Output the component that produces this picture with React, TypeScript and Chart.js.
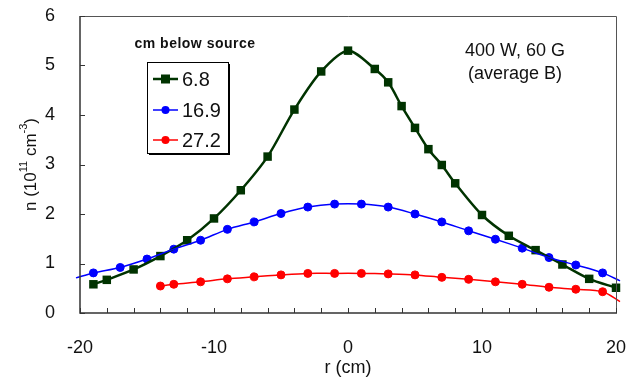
import React, { useEffect, useRef } from "react";
import { Chart, registerables } from "chart.js";

Chart.register(...registerables);

const seriesLabels = ["6.8", "16.9", "27.2"];
const rGreen = [-19, -18, -16, -14, -12, -10, -8, -6, -4, -2, 0, 2, 3, 4, 5, 6, 7, 8, 10, 12, 14, 16, 18, 20];
const nGreen = [0.58, 0.67, 0.88, 1.15, 1.47, 1.91, 2.48, 3.16, 4.11, 4.88, 5.3, 4.93, 4.66, 4.18, 3.74, 3.31, 2.99, 2.62, 1.98, 1.56, 1.27, 0.98, 0.69, 0.51];
const rBlue = [-19, -17, -15, -13, -11, -9, -7, -5, -3, -1, 1, 3, 5, 7, 9, 11, 13, 15, 17, 19];
const nBlue = [0.81, 0.92, 1.09, 1.29, 1.47, 1.69, 1.84, 2.01, 2.14, 2.2, 2.2, 2.14, 2.0, 1.84, 1.66, 1.49, 1.31, 1.12, 0.97, 0.81];
const rRed = [-14, -13, -11, -9, -7, -5, -3, -1, 1, 3, 5, 7, 9, 11, 13, 15, 17, 19];
const nRed = [0.545, 0.58, 0.63, 0.69, 0.73, 0.77, 0.8, 0.8, 0.8, 0.79, 0.77, 0.72, 0.68, 0.63, 0.58, 0.52, 0.48, 0.43];
// trendline end points (beyond the measured range)
const blueFitStart = { x: -20.3, y: 0.71 };
const blueFitEnd = { x: 20.3, y: 0.65 };
const redFitEnd = { x: 20.3, y: 0.23 };

const xTicks = [-20, -10, 0, 10, 20];
const yTicks = [0, 1, 2, 3, 4, 5, 6];

const GREEN = "#003300";
const BLUE = "#0000ff";
const RED = "#ff0000";
const FONT = "'Liberation Sans', Arial, sans-serif";

const pts = (xs: number[], ys: number[]) => xs.map((x, i) => ({ x, y: ys[i] }));

export default function App() {
  const ref = useRef<HTMLCanvasElement>(null);
  useEffect(() => {
    document.body.style.margin = "0";
    const canvas = ref.current!;
    const styles = [
      { color: GREEN, style: "rect", r: 4.5, w: 2.5 },
      { color: BLUE, style: "circle", r: 4, w: 1.5 },
      { color: RED, style: "circle", r: 4, w: 1.5 },
    ];

    const deco = {
      id: "deco",
      afterDraw(chart: any) {
        const ctx = chart.ctx;
        const { left, right, top, bottom } = chart.chartArea;
        const xs = chart.scales.x;
        const ys = chart.scales.y;
        ctx.save();
        // frame
        ctx.strokeStyle = "#555";
        ctx.lineWidth = 1;
        ctx.beginPath();
        ctx.moveTo(left, top + 0.5);
        ctx.lineTo(right + 0.5, top + 0.5);
        ctx.lineTo(right + 0.5, bottom);
        ctx.stroke();
        ctx.strokeStyle = "#333";
        ctx.lineWidth = 1.5;
        ctx.beginPath();
        ctx.moveTo(left, top);
        ctx.lineTo(left, bottom);
        ctx.lineTo(right + 1, bottom);
        ctx.stroke();
        // inward ticks
        ctx.lineWidth = 1;
        ctx.beginPath();
        for (let v = -20; v <= 20; v += 2) {
          const px = Math.round(xs.getPixelForValue(v)) + 0.5;
          ctx.moveTo(px, bottom);
          ctx.lineTo(px, bottom - 5);
        }
        for (const v of yTicks) {
          const py = Math.round(ys.getPixelForValue(v)) + 0.5;
          ctx.moveTo(left, py);
          ctx.lineTo(left + 5, py);
        }
        ctx.stroke();

        // axis titles
        ctx.fillStyle = "#111";
        ctx.textAlign = "center";
        ctx.textBaseline = "middle";
        ctx.font = `18px ${FONT}`;
        ctx.fillText("r (cm)", (left + right) / 2, 368);

        ctx.save();
        ctx.translate(31, (top + bottom) / 2);
        ctx.rotate(-Math.PI / 2);
        const parts: [string, boolean][] = [
          ["n (10", false],
          ["11", true],
          [" cm", false],
          ["-3", true],
          [")", false],
        ];
        const big = `17px ${FONT}`;
        const small = `11px ${FONT}`;
        let total = 0;
        for (const [t, s] of parts) {
          ctx.font = s ? small : big;
          total += ctx.measureText(t).width;
        }
        let cx = -total / 2;
        ctx.textAlign = "left";
        for (const [t, s] of parts) {
          ctx.font = s ? small : big;
          ctx.fillText(t, cx, s ? -7 : 0);
          cx += ctx.measureText(t).width;
        }
        ctx.restore();

        // annotations
        ctx.textAlign = "center";
        ctx.font = `bold 14px ${FONT}`;
        (ctx as any).letterSpacing = "0.5px";
        ctx.fillText("cm below source", 195, 44);
        (ctx as any).letterSpacing = "0px";
        ctx.font = `18px ${FONT}`;
        ctx.fillText("400 W, 60 G", 515, 51);
        ctx.fillText("(average B)", 515, 74);

        // legend
        const bx = 147, by = 62, bw = 81, bh = 91;
        ctx.fillStyle = "#000";
        ctx.fillRect(bx + 2, by + 2, bw, bh);
        ctx.fillStyle = "#fff";
        ctx.fillRect(bx, by, bw, bh);
        ctx.strokeStyle = "#000";
        ctx.lineWidth = 1;
        ctx.strokeRect(bx + 0.5, by + 0.5, bw, bh);
        const rows = [79, 110, 140];
        seriesLabels.forEach((lab, i) => {
          const st = styles[i];
          const y = rows[i];
          ctx.strokeStyle = st.color;
          ctx.lineWidth = st.w;
          ctx.beginPath();
          ctx.moveTo(153, y);
          ctx.lineTo(178, y);
          ctx.stroke();
          ctx.fillStyle = st.color;
          if (st.style === "rect") {
            ctx.fillRect(165.5 - st.r, y - st.r, st.r * 2, st.r * 2);
          } else {
            ctx.beginPath();
            ctx.arc(165.5, y, st.r, 0, Math.PI * 2);
            ctx.fill();
          }
          ctx.fillStyle = "#111";
          ctx.textAlign = "left";
          ctx.font = `20px ${FONT}`;
          ctx.fillText(lab, 182, y + 1);
        });
        ctx.restore();
      },
    };

    const chart = new Chart(canvas, {
      type: "scatter",
      data: {
        datasets: [
          {
            label: "16.9 fit",
            data: [blueFitStart, ...pts(rBlue, nBlue), blueFitEnd],
            showLine: true,
            borderColor: BLUE,
            borderWidth: 1.5,
            pointRadius: 0,
            tension: 0.3,
            clip: 6,
          } as any,
          {
            label: "27.2 fit",
            data: [...pts(rRed, nRed), redFitEnd],
            showLine: true,
            borderColor: RED,
            borderWidth: 1.5,
            pointRadius: 0,
            tension: 0.3,
            clip: 6,
          } as any,
          {
            label: "6.8 line",
            data: pts(rGreen, nGreen),
            showLine: true,
            borderColor: GREEN,
            borderWidth: 2.5,
            pointRadius: 0,
            tension: 0.3,
            clip: 6,
          } as any,
          {
            label: seriesLabels[1],
            data: pts(rBlue, nBlue),
            showLine: false,
            backgroundColor: BLUE,
            borderColor: BLUE,
            pointStyle: "circle",
            pointRadius: 4,
            clip: 6,
          } as any,
          {
            label: seriesLabels[2],
            data: pts(rRed, nRed),
            showLine: false,
            backgroundColor: RED,
            borderColor: RED,
            pointStyle: "circle",
            pointRadius: 4,
            clip: 6,
          } as any,
          {
            label: seriesLabels[0],
            data: pts(rGreen, nGreen),
            showLine: false,
            backgroundColor: GREEN,
            borderColor: GREEN,
            pointStyle: "rect",
            pointRadius: 6,
            borderWidth: 0,
            clip: 6,
          } as any,
        ],
      },
      options: {
        animation: false,
        responsive: false,
        maintainAspectRatio: false,
        layout: { padding: { left: 0, top: 16, right: 22, bottom: 0 } },
        plugins: { legend: { display: false }, tooltip: { enabled: false } },
        scales: {
          x: {
            type: "linear",
            min: -20,
            max: 20,
            afterBuildTicks: (s: any) => {
              s.ticks = xTicks.map((v) => ({ value: v }));
            },
            afterFit: (s: any) => {
              s.height = 72;
              s.paddingLeft = 0;
              s.paddingRight = 0;
            },
            grid: { display: false },
            border: { display: false },
            ticks: { color: "#111", font: { family: FONT, size: 18 }, padding: 16, maxRotation: 0 },
          },
          y: {
            type: "linear",
            min: 0,
            max: 6,
            afterBuildTicks: (s: any) => {
              s.ticks = yTicks.map((v) => ({ value: v }));
            },
            afterFit: (s: any) => {
              s.width = 80;
              s.paddingTop = 0;
              s.paddingBottom = 0;
            },
            grid: { display: false },
            border: { display: false },
            ticks: { color: "#111", font: { family: FONT, size: 18 }, padding: 17 },
          },
        },
      },
      plugins: [deco],
    });
    return () => chart.destroy();
  }, []);
  return <canvas ref={ref} width={638} height={385} style={{ display: "block" }} />;
}
